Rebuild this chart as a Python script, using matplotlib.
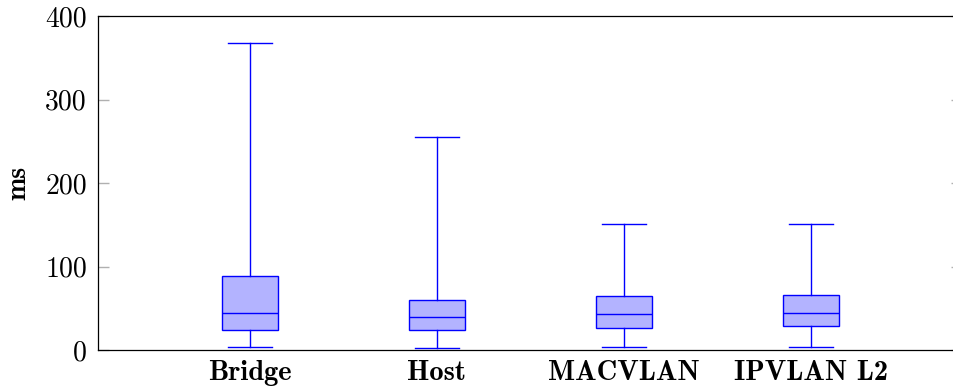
import matplotlib
matplotlib.use("Agg")
from matplotlib import pyplot as plt

# valores (ms)
etiquetas = ["Bridge", "Host", "MACVLAN", "IPVLAN L2"]
minimos = [3.2, 2.8, 3.6, 3.6]
q1 = [24.0, 23.6, 26.3, 29.1]
medianas = [44.7, 39.1, 42.7, 44.7]
q3 = [88.6, 59.5, 64.3, 65.5]
maximos = [368.0, 255.0, 150.5, 151.3]
yticks = [0, 100, 200, 300, 400]

plt.rcParams["axes.formatter.use_mathtext"] = True

fig = plt.figure(figsize=(9.54, 3.92), dpi=100)
ax = fig.add_axes([98 / 954, 42 / 392, 864 / 954, 334 / 392])

stats = []
for i in range(len(etiquetas)):
    stats.append({"label": etiquetas[i], "whislo": minimos[i], "q1": q1[i],
                  "med": medianas[i], "q3": q3[i], "whishi": maximos[i]})

azul = (0, 0, 1)
ax.bxp(stats, positions=[1, 2, 3, 4], widths=0.30, patch_artist=True,
       showfliers=False,
       boxprops=dict(facecolor=(0.7, 0.7, 1.0), edgecolor=azul, linewidth=1.0),
       medianprops=dict(color=azul, linewidth=1.0),
       whiskerprops=dict(color=azul, linewidth=1.0),
       capprops=dict(color=azul, linewidth=1.0),
       capwidths=0.235)

ax.set_xlim(0.187, 4.81)
ax.set_ylim(0, 400)
ax.set_yticks(yticks)
ax.set_yticklabels([str(v) for v in yticks], fontfamily="cmr10", fontsize=20)
ax.set_xticklabels(etiquetas, fontfamily="cmb10", fontsize=20.5)
ax.tick_params(axis="x", length=0, pad=7)
ax.tick_params(axis="y", direction="in", length=8, width=1.0, color="#b0b0b0",
               left=True, right=True, pad=8)
ax.set_ylabel("ms", fontfamily="cmb10", fontsize=20, labelpad=10)
for sp in ax.spines.values():
    sp.set_linewidth(0.9)
ax.spines["right"].set_visible(False)

fig.savefig("out.png", dpi=100)
